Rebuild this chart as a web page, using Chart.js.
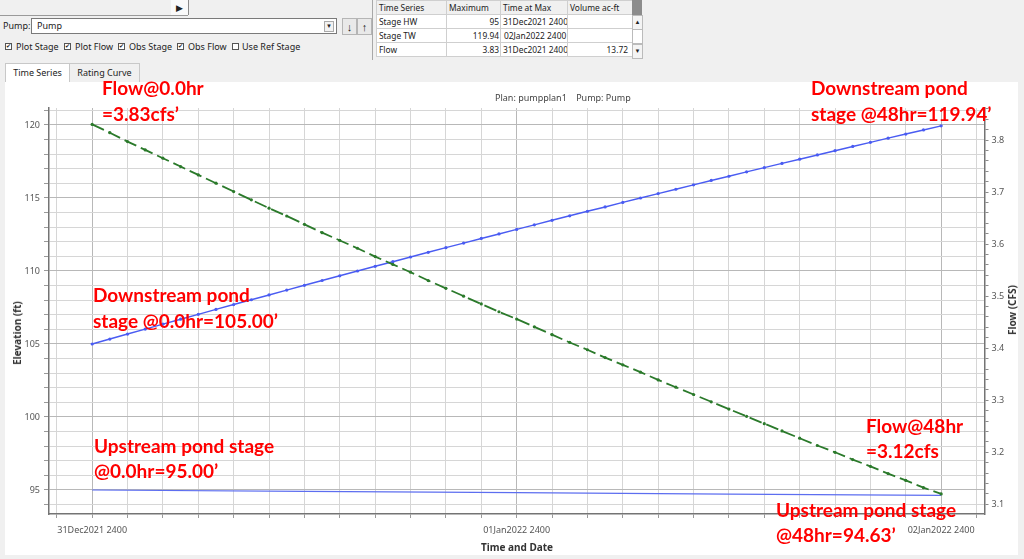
<!DOCTYPE html>
<html>
<head>
<meta charset="utf-8">
<script src="https://cdn.jsdelivr.net/npm/chart.js@4.4.1/dist/chart.umd.min.js"></script>
<style>
  body { margin: 0; width: 1024px; height: 559px; background: #f0f0f0; overflow: hidden; position: relative;
         font-family: "Noto Sans", "Open Sans", sans-serif; font-size: 9px; color: #222; }
  .abs { position: absolute; white-space: nowrap; }
  .toolbar { left: 0; top: 0; width: 188px; height: 15px; border-bottom: 1px solid #9a9a9a; }
  .playbtn { left: 171px; top: 0; width: 17px; height: 15px; background: #fafafa; border-right: 1px solid #8a8a8a;
             font-size: 9px; line-height: 15px; text-align: center; }
  .combo { left: 31px; top: 18px; width: 304px; height: 14px; background: #fff; border: 1px solid #7a7a7a; }
  .combo .txt { position: absolute; left: 5px; top: 0; line-height: 14px; }
  .combo .arrow { position: absolute; right: 2px; top: 2px; width: 8px; height: 9px; border: 1px solid #aaa;
                  background: #f2f2f2; font-size: 6px; line-height: 9px; text-align: center; }
  .sbtn { top: 18px; width: 13px; height: 15px; background: #e9e9e9; border: 1px solid #b5b5b5;
          font-size: 11px; font-weight: bold; line-height: 15px; text-align: center; }
  .cb { top: 43px; width: 5px; height: 5px; border: 1px solid #555; background: #fff;
        font-size: 6px; line-height: 5px; text-align: center; overflow: hidden; }
  .cbl { top: 40px; line-height: 13px; }
  .tab { top: 63px; height: 18px; line-height: 18px; text-align: center; border: 1px solid #c8c8c8; border-bottom: none; }
  .panel { left: 5px; top: 82px; width: 1013px; height: 473px; background: #fff; }
  .grid { left: 376px; top: 0; width: 256px; border-collapse: collapse; table-layout: fixed; background: #fff; }
  .grid td { border: 1px solid #cfcfcf; padding: 0 1px 0 2px; height: 13px; line-height: 13px; font-size: 8.4px;
             overflow: hidden; white-space: nowrap; }
  .grid tr.hd td { background: #f0f0f0; }
  .grid td.n { text-align: right; padding-right: 1px; }
  .note { color: #ff0000; font: bold 19px Lato, "Open Sans", sans-serif; line-height: 19px; }
  .atitle { font: bold 10px "Noto Sans", sans-serif; color: #333; transform: translate(-50%, -50%); }
  .rot { transform: translate(-50%, -50%) rotate(-90deg); }
  #wrap { position: absolute; left: 5px; top: 83px; width: 1013px; height: 472px; }
</style>
</head>
<body>

<div class="abs toolbar"></div>
<div class="abs playbtn">&#9654;</div>

<div class="abs" style="left:3px;top:19px;line-height:13px">Pump:</div>
<div class="abs combo"><span class="txt">Pump</span><span class="arrow">&#9660;</span></div>
<div class="abs sbtn" style="left:342px">&#8595;</div>
<div class="abs sbtn" style="left:357px">&#8593;</div>

<div class="abs cb" style="left:5px">&#10004;</div><div class="abs cbl" style="left:16px">Plot Stage</div>
<div class="abs cb" style="left:64px">&#10004;</div><div class="abs cbl" style="left:75px">Plot Flow</div>
<div class="abs cb" style="left:118px">&#10004;</div><div class="abs cbl" style="left:129px">Obs Stage</div>
<div class="abs cb" style="left:177px">&#10004;</div><div class="abs cbl" style="left:188px">Obs Flow</div>
<div class="abs cb" style="left:232px"></div><div class="abs cbl" style="left:242px">Use Ref Stage</div>

<div class="abs tab" style="left:5px;width:63px;background:#fff">Time Series</div>
<div class="abs tab" style="left:69px;width:69px">Rating Curve</div>

<div class="abs" style="left:372px;top:0;width:1px;height:60px;background:#a8a8a8"></div>
<table class="abs grid">
  <colgroup><col style="width:70px"><col style="width:54px"><col style="width:67px"><col style="width:65px"></colgroup>
  <tr class="hd"><td>Time Series</td><td>Maximum</td><td>Time at Max</td><td>Volume ac-ft</td></tr>
  <tr><td>Stage HW</td><td class="n">95</td><td>31Dec2021 2400</td><td></td></tr>
  <tr><td>Stage TW</td><td class="n">119.94</td><td style="padding-left:3px">02Jan2022 2400</td><td></td></tr>
  <tr><td>Flow</td><td class="n">3.83</td><td>31Dec2021 2400</td><td class="n" style="padding-right:4px">13.72</td></tr>
</table>
<div class="abs" style="left:632px;top:0;width:10px;height:15px;background:#8c8c8c"></div>
<div class="abs" style="left:632px;top:15px;width:9px;height:13px;background:#f4f4f4;border:1px solid #bbb;font-size:6px;line-height:13px;text-align:center">&#9650;</div>
<div class="abs" style="left:632px;top:29px;width:9px;height:13px;background:#fff;border:1px solid #bbb"></div>
<div class="abs" style="left:632px;top:44px;width:9px;height:13px;background:#f4f4f4;border:1px solid #bbb;font-size:6px;line-height:13px;text-align:center">&#9660;</div>

<div class="abs panel"></div>
<div id="wrap"><canvas id="chart"></canvas></div>

<div class="abs" style="left:495px;top:92px;font-size:9px;color:#444;line-height:12px">Plan: pumpplan1&nbsp;&nbsp;&nbsp;&nbsp;Pump: Pump</div>
<div class="abs atitle rot" style="left:17px;top:333px">Elevation (ft)</div>
<div class="abs atitle rot" style="left:1012px;top:310px">Flow (CFS)</div>
<div class="abs atitle" style="left:517px;top:547px">Time and Date</div>

<div class="abs note" style="left:102px;top:78px">Flow@0.0hr</div>
<div class="abs note" style="left:102px;top:104px">=3.83cfs’</div>
<div class="abs note" style="left:811px;top:78px">Downstream pond</div>
<div class="abs note" style="left:811px;top:104px">stage @48hr=119.94’</div>
<div class="abs note" style="left:93px;top:285px">Downstream pond</div>
<div class="abs note" style="left:93px;top:311px">stage @0.0hr=105.00’</div>
<div class="abs note" style="left:94px;top:436px">Upstream pond stage</div>
<div class="abs note" style="left:94px;top:461px">@0.0hr=95.00’</div>
<div class="abs note" style="left:866px;top:416px">Flow@48hr</div>
<div class="abs note" style="left:866px;top:441px">=3.12cfs</div>
<div class="abs note" style="left:776px;top:500px">Upstream pond stage</div>
<div class="abs note" style="left:776px;top:525px">@48hr=94.63’</div>

<script>
/* hours after 31Dec2021 2400 */
const hours = [0, 1, 2, 3, 4, 5, 6, 7, 8, 9, 10, 11, 12, 13, 14, 15, 16, 17, 18, 19, 20, 21, 22, 23, 24,
  25, 26, 27, 28, 29, 30, 31, 32, 33, 34, 35, 36, 37, 38, 39, 40, 41, 42, 43, 44, 45, 46, 47, 48];

/* downstream pond (Stage TW), ft */
const stageTW = [105.00, 105.34, 105.68, 106.02, 106.36, 106.70, 107.03, 107.37, 107.70, 108.03, 108.36,
  108.69, 109.02, 109.35, 109.67, 110.00, 110.32, 110.64, 110.96, 111.28, 111.60, 111.91, 112.23, 112.54,
  112.85, 113.16, 113.47, 113.78, 114.09, 114.39, 114.70, 115.00, 115.30, 115.60, 115.90, 116.20, 116.49,
  116.79, 117.08, 117.37, 117.66, 117.95, 118.24, 118.53, 118.81, 119.10, 119.38, 119.66, 119.94];

/* pump flow, cfs */
const flowCfs = [3.830, 3.814, 3.797, 3.781, 3.765, 3.749, 3.733, 3.717, 3.701, 3.685, 3.669, 3.654, 3.638,
  3.622, 3.607, 3.592, 3.576, 3.561, 3.546, 3.530, 3.515, 3.500, 3.485, 3.470, 3.456, 3.441, 3.426, 3.411,
  3.397, 3.382, 3.368, 3.354, 3.339, 3.325, 3.311, 3.297, 3.283, 3.269, 3.255, 3.241, 3.227, 3.213, 3.200,
  3.186, 3.173, 3.159, 3.146, 3.132, 3.120];

/* upstream pond (Stage HW), ft */
const hwHours = [0, 12, 24, 36, 48];
const stageHW = [95.00, 94.91, 94.82, 94.72, 94.63];

const xTickHours = [0, 24, 48];
const xTickText = ['31Dec2021 2400', '01Jan2022 2400', '02Jan2022 2400'];

const GREEN = '#2b7a2b';
const BLUE = '#4a5cf2';
const BLUE_HW = '#5d6ef0';
const tickFont = { family: 'Noto Sans', size: 9 };

const opGrid = (v, stap) => Math.abs(v / stap - Math.round(v / stap)) < 1e-6;
const punten = (xs, ys) => xs.map((x, i) => ({ x, y: ys[i] }));

/* eigen tick-raster: elke 'stap' binnen min..max */
function raster(stap) {
  return s => {
    const out = [];
    for (let k = Math.ceil(s.min / stap - 1e-9); k * stap <= s.max + 1e-9; k++) {
      out.push({ value: +(k * stap).toFixed(4) });
    }
    s.ticks = out;
  };
}

new Chart(document.getElementById('chart'), {
  type: 'line',
  data: {
    datasets: [
      {
        label: 'Flow', yAxisID: 'y2', data: punten(hours, flowCfs),
        borderColor: GREEN, backgroundColor: GREEN, borderWidth: 1.8, borderDash: [13, 5],
        pointRadius: 1.6, pointBorderWidth: 0, tension: 0
      },
      {
        label: 'Stage TW', yAxisID: 'y', data: punten(hours, stageTW),
        borderColor: BLUE, backgroundColor: BLUE, borderWidth: 1.5,
        pointRadius: 1.6, pointBorderWidth: 0, tension: 0
      },
      {
        label: 'Stage HW', yAxisID: 'y', data: punten(hwHours, stageHW),
        borderColor: BLUE_HW, borderWidth: 1.2, pointRadius: 0, tension: 0
      }
    ]
  },
  options: {
    responsive: true,
    maintainAspectRatio: false,
    animation: false,
    layout: { padding: { top: 25, left: 0, right: 0, bottom: 0 } },
    plugins: { legend: { display: false }, tooltip: { enabled: false } },
    scales: {
      x: {
        type: 'linear', min: -2.44, max: 50.45,
        afterBuildTicks: raster(2),
        afterFit: s => { s.height = 41; },
        ticks: {
          autoSkip: false, maxRotation: 0, minRotation: 0, padding: 7,
          color: '#555', font: tickFont,
          callback: v => { const i = xTickHours.indexOf(v); return i >= 0 ? xTickText[i] : ''; }
        },
        grid: {
          color: c => c.tick && opGrid(c.tick.value, 24) ? '#b8b8b8' : '#d6d6d6',
          tickColor: '#9a9a9a', tickLength: 4
        },
        border: { color: '#747474', width: 1.5 }
      },
      y: {
        position: 'left', min: 93.356, max: 121.164,
        afterBuildTicks: raster(1),
        afterFit: s => { s.width = 44; },
        ticks: {
          autoSkip: false, padding: 4, color: '#555', font: tickFont,
          callback: v => opGrid(v, 5) ? String(Math.round(v)) : ''
        },
        grid: {
          color: c => c.tick && opGrid(c.tick.value, 5) ? '#b8b8b8' : '#d6d6d6',
          tickColor: '#9a9a9a', tickLength: 5
        },
        border: { color: '#747474', width: 1.5 }
      },
      y2: {
        position: 'right', min: 3.0814, max: 3.8615,
        afterBuildTicks: raster(0.02),
        afterFit: s => { s.width = 33.5; },
        ticks: {
          autoSkip: false, padding: 3, color: '#555', font: tickFont,
          callback: v => opGrid(v, 0.1) ? v.toFixed(1) : ''
        },
        grid: { drawOnChartArea: false, tickColor: '#8a8a8a', tickLength: 4 },
        border: { color: '#747474', width: 1.5 }
      }
    }
  }
});
</script>
</body>
</html>
